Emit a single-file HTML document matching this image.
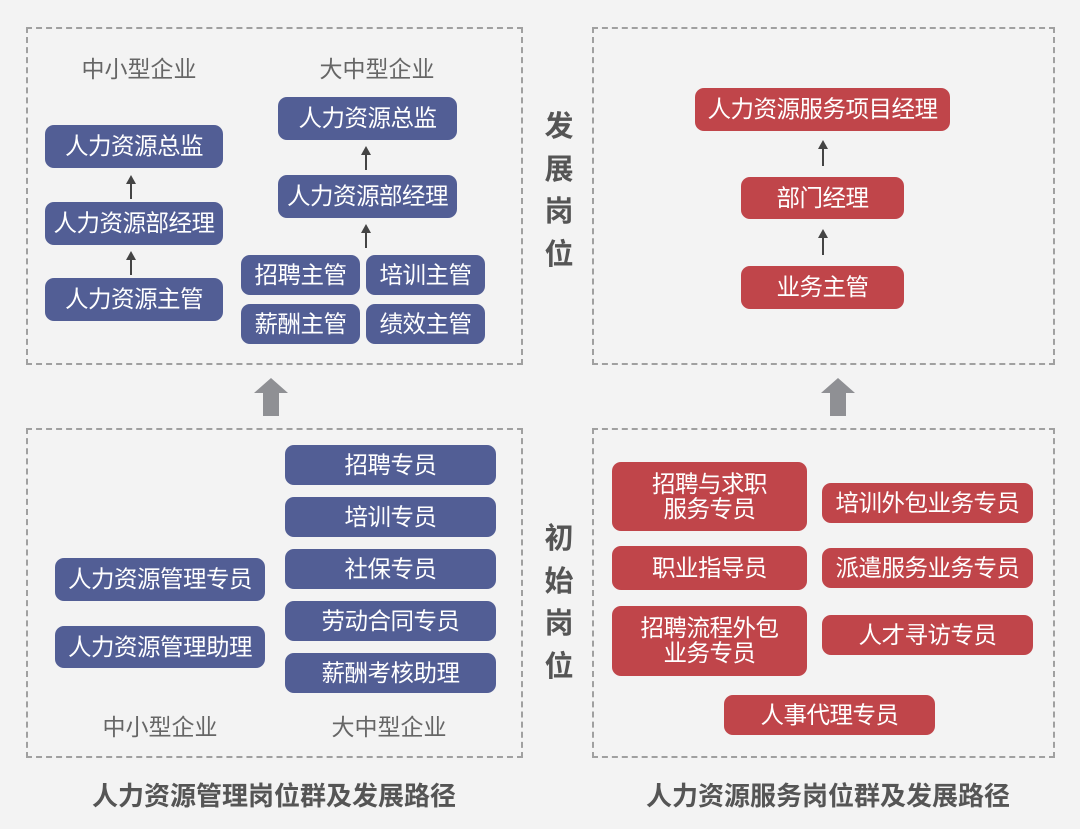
<!DOCTYPE html>
<html><head><meta charset="utf-8"><style>
body{margin:0;width:1080px;height:829px;background:#f3f3f3;position:relative;overflow:hidden;font-family:"Liberation Sans","Noto Sans CJK SC",sans-serif}
.d{position:absolute;border:2px dashed #a0a0a0;box-sizing:border-box}
.b,.r{position:absolute;box-sizing:border-box;border-radius:9px;color:#fff;display:flex;align-items:center;justify-content:center;text-align:center;font-size:23.5px;line-height:25px;white-space:nowrap;letter-spacing:-0.5px}
.b{background:#525e95}
.r{background:#c0454a}
.t{position:absolute;color:#666;font-size:23px;transform:translateX(-50%);white-space:nowrap}
.v{position:absolute;left:543px;width:32px;color:#555;font-weight:bold;font-size:29px;line-height:42.5px;text-align:center}
.cap{position:absolute;color:#555;font-weight:bold;font-size:26px;transform:translateX(-50%);white-space:nowrap}
.ar{position:absolute;width:2px;background:#444}
.ar:before{content:"";position:absolute;left:-4px;top:-8px;border-left:5px solid transparent;border-right:5px solid transparent;border-bottom:9px solid #444}
.big{position:absolute;width:34px;height:38px}
</style></head><body>
<div class="d" style="left:26px;top:27px;width:497px;height:338px"></div>
<div class="d" style="left:592px;top:27px;width:463px;height:338px"></div>
<div class="d" style="left:26px;top:428px;width:497px;height:330px"></div>
<div class="d" style="left:592px;top:428px;width:463px;height:330px"></div>

<div class="t" style="left:139px;top:50px">中小型企业</div>
<div class="t" style="left:377px;top:50px">大中型企业</div>
<div class="b" style="left:45px;top:125px;width:178px;height:43px">人力资源总监</div>
<div class="b" style="left:45px;top:202px;width:178px;height:43px">人力资源部经理</div>
<div class="b" style="left:45px;top:278px;width:178px;height:43px">人力资源主管</div>
<div class="ar" style="left:130px;top:183px;height:16px"></div>
<div class="ar" style="left:130px;top:259px;height:16px"></div>
<div class="b" style="left:278px;top:97px;width:179px;height:43px">人力资源总监</div>
<div class="b" style="left:278px;top:175px;width:179px;height:43px">人力资源部经理</div>
<div class="ar" style="left:365px;top:154px;height:16px"></div>
<div class="ar" style="left:365px;top:232px;height:16px"></div>
<div class="b" style="left:241px;top:255px;width:119px;height:40px">招聘主管</div>
<div class="b" style="left:366px;top:255px;width:119px;height:40px">培训主管</div>
<div class="b" style="left:241px;top:304px;width:119px;height:40px">薪酬主管</div>
<div class="b" style="left:366px;top:304px;width:119px;height:40px">绩效主管</div>

<div class="v" style="top:106px">发<br>展<br>岗<br>位</div>
<div class="v" style="top:518px">初<br>始<br>岗<br>位</div>

<div class="r" style="left:695px;top:88px;width:255px;height:43px">人力资源服务项目经理</div>
<div class="r" style="left:741px;top:177px;width:163px;height:42px">部门经理</div>
<div class="r" style="left:741px;top:266px;width:163px;height:43px">业务主管</div>
<div class="ar" style="left:822px;top:148px;height:18px"></div>
<div class="ar" style="left:822px;top:237px;height:18px"></div>

<svg class="big" style="left:254px;top:378px" viewBox="0 0 34 38"><polygon points="17,0 34,15 25,15 25,38 9,38 9,15 0,15" fill="#8f9094"/></svg>
<svg class="big" style="left:821px;top:378px" viewBox="0 0 34 38"><polygon points="17,0 34,15 25,15 25,38 9,38 9,15 0,15" fill="#8f9094"/></svg>

<div class="b" style="left:55px;top:558px;width:210px;height:43px">人力资源管理专员</div>
<div class="b" style="left:55px;top:626px;width:210px;height:42px">人力资源管理助理</div>
<div class="b" style="left:285px;top:445px;width:211px;height:40px">招聘专员</div>
<div class="b" style="left:285px;top:497px;width:211px;height:40px">培训专员</div>
<div class="b" style="left:285px;top:549px;width:211px;height:40px">社保专员</div>
<div class="b" style="left:285px;top:601px;width:211px;height:40px">劳动合同专员</div>
<div class="b" style="left:285px;top:653px;width:211px;height:40px">薪酬考核助理</div>
<div class="t" style="left:160px;top:708px">中小型企业</div>
<div class="t" style="left:389px;top:708px">大中型企业</div>

<div class="r" style="left:612px;top:462px;width:195px;height:69px">招聘与求职<br>服务专员</div>
<div class="r" style="left:822px;top:483px;width:211px;height:40px">培训外包业务专员</div>
<div class="r" style="left:612px;top:546px;width:195px;height:44px">职业指导员</div>
<div class="r" style="left:822px;top:548px;width:211px;height:40px">派遣服务业务专员</div>
<div class="r" style="left:612px;top:606px;width:195px;height:70px">招聘流程外包<br>业务专员</div>
<div class="r" style="left:822px;top:615px;width:211px;height:40px">人才寻访专员</div>
<div class="r" style="left:724px;top:695px;width:211px;height:40px">人事代理专员</div>

<div class="cap" style="left:274px;top:776px">人力资源管理岗位群及发展路径</div>
<div class="cap" style="left:828px;top:776px">人力资源服务岗位群及发展路径</div>
</body></html>
